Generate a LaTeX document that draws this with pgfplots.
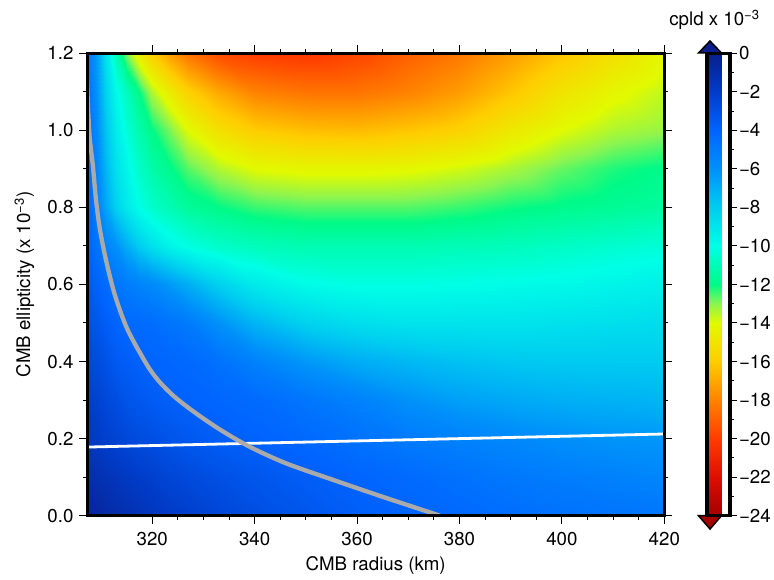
\documentclass[border=0pt]{standalone}
\usepackage{fontspec}
\setmainfont{TeX Gyre Heros}
\usepackage{pgfplots}
\pgfplotsset{compat=1.18}

\definecolor{cbnavy}{RGB}{10,30,140}
\definecolor{cbred}{RGB}{165,0,0}
\definecolor{curvegray}{RGB}{170,170,170}

% GMT-like rainbow, positions = value + 24
\pgfplotsset{colormap={gmtjet}{rgb255(0)=(165,0,0) rgb255(2)=(220,15,0) rgb255(4)=(255,60,0)
  rgb255(6)=(255,130,0) rgb255(8)=(255,205,0) rgb255(10)=(225,250,0) rgb255(11)=(140,245,80)
  rgb255(12)=(0,250,135) rgb255(14)=(0,255,230) rgb255(16)=(0,205,240) rgb255(18)=(0,145,250)
  rgb255(20)=(0,100,255) rgb255(22)=(0,60,200) rgb255(24)=(10,30,140)}}

\newcommand{\lbl}{\fontsize{18.7}{22}\selectfont}

\begin{document}
\begin{tikzpicture}
\useasboundingbox (0pt,0pt) rectangle (774pt,579pt);

% colorbar end triangles
\filldraw[fill=cbnavy, draw=black, line width=1.5pt, line join=miter]
  (698.5pt,526pt) -- (710pt,538pt) -- (721.5pt,526pt) -- cycle;
\filldraw[fill=cbred, draw=black, line width=1.5pt, line join=miter]
  (698.5pt,63.3pt) -- (710pt,50pt) -- (721.5pt,63.3pt) -- cycle;

\begin{axis}[
    at={(87pt,63.3pt)}, anchor=south west,
    scale only axis, width=577.3pt, height=462.5pt,
    xmin=307.25, xmax=420, ymin=0, ymax=1.2,
    xtick={320,340,360,380,400,420}, minor x tick num=3,
    ytick={0,0.2,0.4,0.6,0.8,1.0,1.2}, minor y tick num=1,
    tick align=outside,
    major tick length=8pt, minor tick length=4pt,
    tick style={black, line width=1pt},
    axis line style={line width=3pt, line cap=rect},
    axis on top,
    /pgf/number format/assume math mode=true,
    tick label style={font=\lbl},
    xticklabel style={yshift=-5pt},
    yticklabel style={xshift=-2pt, /pgf/number format/.cd, fixed, fixed zerofill, precision=1},
    xlabel={CMB radius (km)},
    ylabel={CMB ellipticity (x 10\textsuperscript{−3})},
    label style={font=\lbl},
    xlabel style={at={(axis description cs:0.5,-0.1195)}, anchor=base},
    ylabel style={at={(axis description cs:-0.0987,0.5)}, anchor=base},
    colormap name=gmtjet,
    point meta min=-24, point meta max=0,
    colorbar,
    colorbar style={
        at={(parent axis.north east)}, anchor=north west, xshift=34.2pt,
        scale only axis, width=23pt, height=462.5pt,
        ytick={-24,-22,-20,-18,-16,-14,-12,-10,-8,-6,-4,-2,0},
        yticklabels={−24,−22,−20,−18,−16,−14,−12,−10,−8,−6,−4,−2,0},
        minor y tick num=1,
        ytick pos=right, yticklabel pos=right,
        tick align=outside,
        major tick length=7pt, minor tick length=3.5pt,
        tick style={black, line width=1pt},
        axis line style={line width=3.3pt, line cap=rect},
        yticklabel style={font=\lbl, xshift=-1.5pt},
    },
]
\addplot[surf, shader=interp, mesh/cols=19, point meta=explicit]
  table[x=x, y=y, meta=c, row sep=\\]{
x y c\\
307 0.0 -0.4\\ 309 0.0 -0.6\\ 311 0.0 -0.8\\ 313 0.0 -1.0\\ 315 0.0 -1.2\\ 317.5 0.0 -1.4\\ 320 0.0 -1.6\\ 323.5 0.0 -1.9\\ 327 0.0 -2.1\\ 333 0.0 -2.5\\ 340 0.0 -2.9\\ 350 0.0 -3.3\\ 360 0.0 -3.7\\ 370 0.0 -4.0\\ 380 0.0 -4.2\\ 390 0.0 -4.4\\ 400 0.0 -4.6\\ 410 0.0 -4.7\\ 420 0.0 -4.8\\
307 0.1 -1.0\\ 309 0.1 -1.2\\ 311 0.1 -1.4\\ 313 0.1 -1.6\\ 315 0.1 -1.8\\ 317.5 0.1 -2.0\\ 320 0.1 -2.2\\ 323.5 0.1 -2.5\\ 327 0.1 -2.7\\ 333 0.1 -3.0\\ 340 0.1 -3.3\\ 350 0.1 -3.7\\ 360 0.1 -4.0\\ 370 0.1 -4.3\\ 380 0.1 -4.6\\ 390 0.1 -4.9\\ 400 0.1 -5.1\\ 410 0.1 -5.3\\ 420 0.1 -5.5\\
307 0.2 -1.6\\ 309 0.2 -1.9\\ 311 0.2 -2.2\\ 313 0.2 -2.4\\ 315 0.2 -2.6\\ 317.5 0.2 -2.8\\ 320 0.2 -2.9\\ 323.5 0.2 -3.2\\ 327 0.2 -3.4\\ 333 0.2 -3.7\\ 340 0.2 -3.9\\ 350 0.2 -4.2\\ 360 0.2 -4.6\\ 370 0.2 -5.0\\ 380 0.2 -5.3\\ 390 0.2 -5.6\\ 400 0.2 -5.9\\ 410 0.2 -6.1\\ 420 0.2 -6.2\\
307 0.3 -2.0\\ 309 0.3 -2.3\\ 311 0.3 -2.6\\ 313 0.3 -2.9\\ 315 0.3 -3.2\\ 317.5 0.3 -3.4\\ 320 0.3 -3.6\\ 323.5 0.3 -3.8\\ 327 0.3 -3.9\\ 333 0.3 -4.1\\ 340 0.3 -4.3\\ 350 0.3 -4.8\\ 360 0.3 -5.3\\ 370 0.3 -6.0\\ 380 0.3 -6.5\\ 390 0.3 -6.8\\ 400 0.3 -7.0\\ 410 0.3 -7.1\\ 420 0.3 -7.2\\
307 0.4 -2.5\\ 309 0.4 -2.8\\ 311 0.4 -3.1\\ 313 0.4 -3.5\\ 315 0.4 -3.7\\ 317.5 0.4 -3.9\\ 320 0.4 -4.0\\ 323.5 0.4 -4.1\\ 327 0.4 -4.2\\ 333 0.4 -4.6\\ 340 0.4 -5.3\\ 350 0.4 -6.2\\ 360 0.4 -6.9\\ 370 0.4 -7.3\\ 380 0.4 -7.6\\ 390 0.4 -7.8\\ 400 0.4 -7.9\\ 410 0.4 -7.9\\ 420 0.4 -7.9\\
307 0.5 -2.9\\ 309 0.5 -3.3\\ 311 0.5 -3.7\\ 313 0.5 -4.0\\ 315 0.5 -4.2\\ 317.5 0.5 -4.3\\ 320 0.5 -4.4\\ 323.5 0.5 -4.7\\ 327 0.5 -5.0\\ 333 0.5 -6.0\\ 340 0.5 -7.2\\ 350 0.5 -8.2\\ 360 0.5 -8.7\\ 370 0.5 -8.9\\ 380 0.5 -8.9\\ 390 0.5 -8.9\\ 400 0.5 -8.8\\ 410 0.5 -8.7\\ 420 0.5 -8.6\\
307 0.6 -3.3\\ 309 0.6 -3.9\\ 311 0.6 -4.4\\ 313 0.6 -4.8\\ 315 0.6 -5.1\\ 317.5 0.6 -5.4\\ 320 0.6 -5.7\\ 323.5 0.6 -6.3\\ 327 0.6 -7.0\\ 333 0.6 -8.2\\ 340 0.6 -9.2\\ 350 0.6 -9.9\\ 360 0.6 -10.1\\ 370 0.6 -10.1\\ 380 0.6 -10.0\\ 390 0.6 -9.9\\ 400 0.6 -9.8\\ 410 0.6 -9.6\\ 420 0.6 -9.4\\
307 0.7 -3.8\\ 309 0.7 -4.6\\ 311 0.7 -5.4\\ 313 0.7 -6.0\\ 315 0.7 -7.0\\ 317.5 0.7 -8.0\\ 320 0.7 -8.8\\ 323.5 0.7 -9.6\\ 327 0.7 -10.1\\ 333 0.7 -10.6\\ 340 0.7 -10.9\\ 350 0.7 -11.1\\ 360 0.7 -11.1\\ 370 0.7 -11.1\\ 380 0.7 -11.0\\ 390 0.7 -10.9\\ 400 0.7 -10.7\\ 410 0.7 -10.5\\ 420 0.7 -10.3\\
307 0.8 -4.0\\ 309 0.8 -5.1\\ 311 0.8 -6.8\\ 313 0.8 -8.2\\ 315 0.8 -9.2\\ 317.5 0.8 -10.0\\ 320 0.8 -10.6\\ 323.5 0.8 -11.1\\ 327 0.8 -11.6\\ 333 0.8 -12.0\\ 340 0.8 -12.4\\ 350 0.8 -12.6\\ 360 0.8 -12.6\\ 370 0.8 -12.6\\ 380 0.8 -12.4\\ 390 0.8 -12.1\\ 400 0.8 -11.9\\ 410 0.8 -11.7\\ 420 0.8 -11.5\\
307 0.9 -4.1\\ 309 0.9 -5.4\\ 311 0.9 -7.3\\ 313 0.9 -8.8\\ 315 0.9 -9.7\\ 317.5 0.9 -10.6\\ 320 0.9 -11.3\\ 323.5 0.9 -11.9\\ 327 0.9 -12.6\\ 333 0.9 -13.4\\ 340 0.9 -14.0\\ 350 0.9 -14.2\\ 360 0.9 -14.2\\ 370 0.9 -14.1\\ 380 0.9 -13.8\\ 390 0.9 -13.3\\ 400 0.9 -12.7\\ 410 0.9 -12.2\\ 420 0.9 -11.9\\
307 1.0 -4.2\\ 309 1.0 -5.7\\ 311 1.0 -7.8\\ 313 1.0 -9.3\\ 315 1.0 -10.3\\ 317.5 1.0 -11.2\\ 320 1.0 -12.0\\ 323.5 1.0 -12.9\\ 327 1.0 -14.0\\ 333 1.0 -15.2\\ 340 1.0 -16.0\\ 350 1.0 -16.4\\ 360 1.0 -16.5\\ 370 1.0 -16.2\\ 380 1.0 -15.8\\ 390 1.0 -14.8\\ 400 1.0 -14.0\\ 410 1.0 -13.4\\ 420 1.0 -13.1\\
307 1.1 -4.3\\ 309 1.1 -6.0\\ 311 1.1 -8.3\\ 313 1.1 -9.8\\ 315 1.1 -10.9\\ 317.5 1.1 -12.0\\ 320 1.1 -13.4\\ 323.5 1.1 -14.7\\ 327 1.1 -15.8\\ 333 1.1 -17.0\\ 340 1.1 -18.0\\ 350 1.1 -18.4\\ 360 1.1 -18.4\\ 370 1.1 -18.0\\ 380 1.1 -17.3\\ 390 1.1 -16.2\\ 400 1.1 -15.0\\ 410 1.1 -14.2\\ 420 1.1 -13.6\\
307 1.2 -4.5\\ 309 1.2 -6.3\\ 311 1.2 -9.0\\ 313 1.2 -11.2\\ 315 1.2 -13.0\\ 317.5 1.2 -14.6\\ 320 1.2 -16.0\\ 323.5 1.2 -17.3\\ 327 1.2 -18.4\\ 333 1.2 -19.6\\ 340 1.2 -20.0\\ 350 1.2 -20.2\\ 360 1.2 -19.8\\ 370 1.2 -19.0\\ 380 1.2 -18.3\\ 390 1.2 -17.3\\ 400 1.2 -16.2\\ 410 1.2 -15.2\\ 420 1.2 -14.2\\
};
% white line
\addplot[white, line width=2.8pt] coordinates {(307,0.178) (340,0.188) (380,0.200) (420,0.212)};
% gray curve
\addplot[curvegray, line width=4.3pt, smooth, line cap=butt] coordinates {
  (307.2,1.143) (307.7,0.994) (308.4,0.908) (309.0,0.821) (309.8,0.741)
  (311.1,0.655) (312.8,0.568) (315.2,0.482) (318.8,0.395) (321.1,0.352)
  (324.3,0.309) (328.6,0.265) (333.4,0.222) (339.0,0.179) (346.1,0.136)
  (355.3,0.093) (365.0,0.049) (376.2,0.0)};
\end{axis}

\node[anchor=base, font=\lbl] at (714.5pt,553pt) {cpld x 10\textsuperscript{−3}};
\end{tikzpicture}
\end{document}
